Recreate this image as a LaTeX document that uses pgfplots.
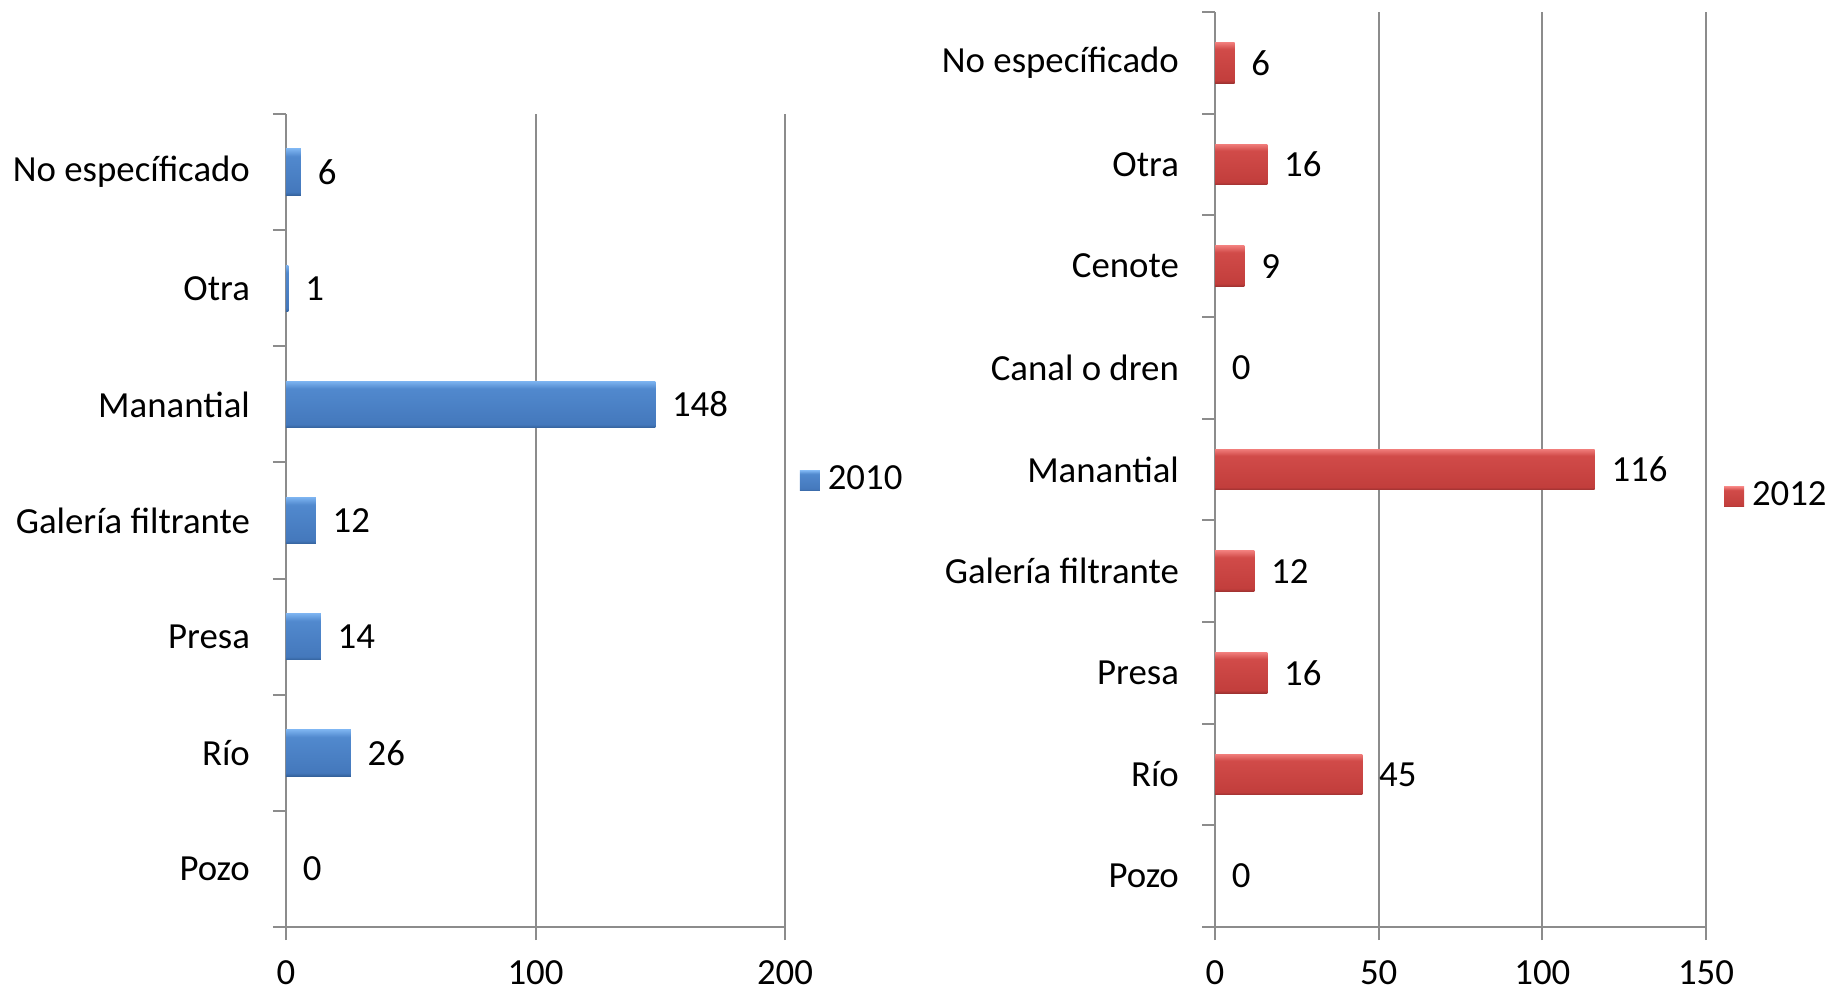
\documentclass[border=0pt]{standalone}
\usepackage{pgfplots}
\pgfplotsset{compat=1.18}
\usepackage{fontspec}
\setmainfont{Carlito}

\definecolor{bluetop}{HTML}{7CB3F0}
\definecolor{bluehi}{HTML}{5189CE}
\definecolor{bluelo}{HTML}{4478BC}
\definecolor{bluebot}{HTML}{34629C}
\definecolor{redtop}{HTML}{F07C7A}
\definecolor{redhi}{HTML}{D14B49}
\definecolor{redlo}{HTML}{C23E3C}
\definecolor{redbot}{HTML}{9C3130}
\definecolor{gridgray}{HTML}{8C8C8C}

\pgfdeclareverticalshading{bluebevel}{100bp}{color(0bp)=(bluebot); color(25bp)=(bluebot); color(28.5bp)=(bluelo); color(67bp)=(bluehi); color(75bp)=(bluetop); color(100bp)=(bluetop)}
\pgfdeclareverticalshading{redbevel}{100bp}{color(0bp)=(redbot); color(25bp)=(redbot); color(28.5bp)=(redlo); color(67bp)=(redhi); color(75bp)=(redtop); color(100bp)=(redtop)}

\newcommand{\lbl}{\fontsize{9.2}{11}\selectfont}

\pgfplotsset{
  bevelchart/.style={
    scale only axis,
    xbar,
    axis lines*=left,
    axis line style={gridgray, line width=0.5pt},
    xmajorgrids,
    grid style={gridgray, line width=0.5pt},
    tick style={gridgray, line width=0.5pt},
    tick align=outside,
    major tick length=3.25pt,
    xmin=0,
    enlarge x limits=false,
    bar width=0.4,
    bar shift=0pt,
    /pgf/number format/assume math mode=true,
    tick label style={font=\lbl, black},
    xticklabel style={yshift=-1.5pt},
    yticklabels={},
    extra y tick style={major tick length=0pt, yticklabel style={xshift=-5.5pt}},
    nodes near coords,
    nodes near coords align={horizontal},
    every node near coord/.append style={font=\lbl, black, anchor=west, inner sep=0pt, xshift=4pt},
    legend style={draw=none, fill=none, font=\lbl, inner sep=0pt, legend cell align=left},
  },
  bluebar/.style={draw=none, shading=bluebevel},
  redbar/.style={draw=none, shading=redbevel},
}

\begin{document}
\begin{tikzpicture}[x=1pt,y=1pt]
\useasboundingbox (0,0) rectangle (457.25,247);

\begin{axis}[
  bevelchart,
  at={(71.5pt,15.25pt)}, anchor=south west,
  width=124.75pt, height=203.25pt,
  xmax=200, xtick={0,100,200},
  ymin=-0.5, ymax=6.5,
  ytick={-0.5,0.5,...,6.5},
  extra y ticks={0,...,6},
  extra y tick labels={Pozo,Río,Presa,Galería filtrante,Manantial,Otra,No específicado},
  legend style={at={(1.028,0.549)}, anchor=west},
  legend image code/.code={\shade[shading=bluebevel] (0pt,-2.5pt) rectangle (5pt,2.5pt);},
]
\addplot[bluebar] coordinates {(0,0)};
\addlegendentry{2010}
\addplot[bluebar, forget plot] coordinates {(26,1)};
\addplot[bluebar, forget plot] coordinates {(14,2)};
\addplot[bluebar, forget plot] coordinates {(12,3)};
\addplot[bluebar, forget plot] coordinates {(148,4)};
\addplot[bluebar, forget plot] coordinates {(1,5)};
\addplot[bluebar, forget plot] coordinates {(6,6)};
\end{axis}

\begin{axis}[
  bevelchart,
  at={(303.75pt,15.25pt)}, anchor=south west,
  width=122.75pt, height=228.75pt,
  xmax=150, xtick={0,50,100,150},
  ymin=-0.5, ymax=8.5,
  ytick={-0.5,0.5,...,8.5},
  extra y ticks={0,...,8},
  extra y tick labels={Pozo,Río,Presa,Galería filtrante,Manantial,Canal o dren,Cenote,Otra,No específicado},
  legend style={at={(1.035,0.470)}, anchor=west},
  legend image code/.code={\shade[shading=redbevel] (0pt,-2.5pt) rectangle (5pt,2.5pt);},
]
\addplot[redbar] coordinates {(0,0)};
\addlegendentry{2012}
\addplot[redbar, forget plot] coordinates {(45,1)};
\addplot[redbar, forget plot] coordinates {(16,2)};
\addplot[redbar, forget plot] coordinates {(12,3)};
\addplot[redbar, forget plot] coordinates {(116,4)};
\addplot[redbar, forget plot] coordinates {(0,5)};
\addplot[redbar, forget plot] coordinates {(9,6)};
\addplot[redbar, forget plot] coordinates {(16,7)};
\addplot[redbar, forget plot] coordinates {(6,8)};
\end{axis}
\end{tikzpicture}
\end{document}
